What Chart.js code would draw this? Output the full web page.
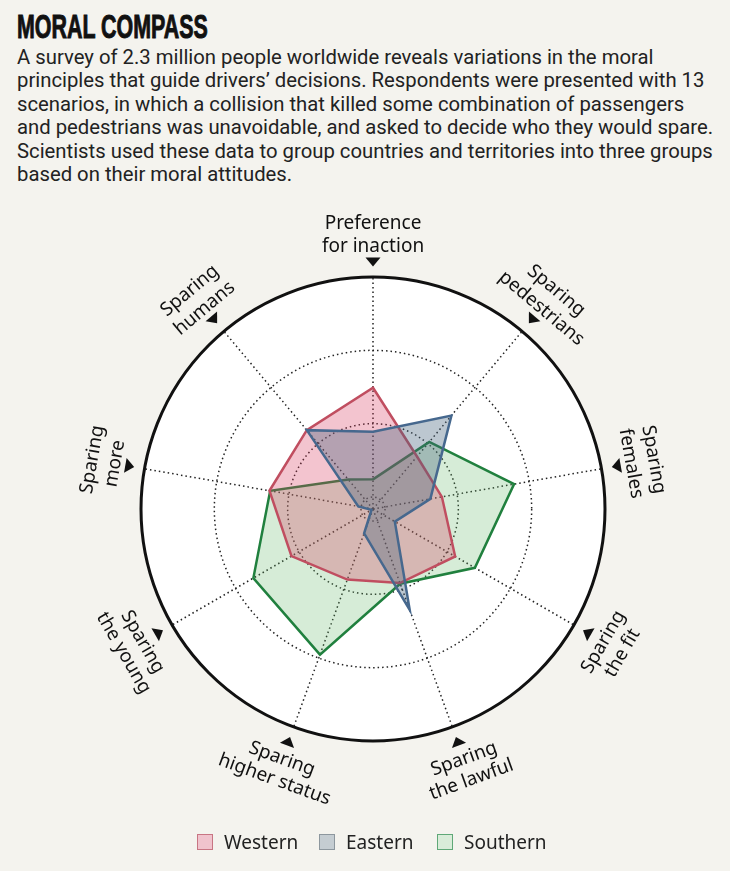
<!DOCTYPE html>
<html>
<head>
<meta charset="utf-8">
<script src="https://cdn.jsdelivr.net/npm/chart.js@4/dist/chart.umd.min.js"></script>
<style>
  html, body { margin: 0; padding: 0; }
  body { width: 730px; height: 871px; background: #f4f3ee; position: relative; overflow: hidden; color: #1a1a1a; }
  #title { position: absolute; left: 17px; top: 9px; font-family: "Liberation Sans Narrow", sans-serif; font-weight: bold;
    font-size: 34px; line-height: 34px; transform: scaleX(0.63); transform-origin: left top; white-space: nowrap; color: #111;
    -webkit-text-stroke: 1px #111; }
  #intro { position: absolute; left: 17px; top: 46px; font-family: Roboto, sans-serif; font-size: 20.3px; line-height: 23.4px;
    white-space: nowrap; color: #222; }
  #wrap { position: absolute; left: 0; top: 190px; width: 730px; height: 640px; }
  .key { position: absolute; top: 834px; font-family: "Noto Sans", sans-serif; font-size: 19px; line-height: 17px; color: #222; }
  .key i { position: absolute; left: 0; top: 0; width: 14px; height: 14px; border: 1.5px solid; }
  .key span { position: absolute; left: 27px; top: 0; white-space: nowrap; }
</style>
</head>
<body>
<div id="title">MORAL COMPASS</div>
<div id="intro">
A survey of 2.3 million people worldwide reveals variations in the moral<br>
principles that guide drivers’ decisions. Respondents were presented with 13<br>
scenarios, in which a collision that killed some combination of passengers<br>
and pedestrians was unavoidable, and asked to decide who they would spare.<br>
Scientists used these data to group countries and territories into three groups<br>
based on their moral attitudes.
</div>
<div id="wrap"><canvas id="compass" width="730" height="640"></canvas></div>
<div id="legend"></div>
<script>
// axes, clockwise from the top
var axisLabels = [
  ["Preference", "for inaction"],
  ["Sparing", "pedestrians"],
  ["Sparing", "females"],
  ["Sparing", "the fit"],
  ["Sparing", "the lawful"],
  ["Sparing", "higher status"],
  ["Sparing", "the young"],
  ["Sparing", "more"],
  ["Sparing", "humans"]
];
var groupNames = ["Western", "Eastern", "Southern"];
var western = [1.49, 0.77, 0.79, 1.13, 0.91, 0.86, 1.12, 1.27, 1.24];
var eastern = [0.89, 1.50, 0.63, 0.18, 1.30, 0.19, -0.14, 0.04, 1.24];
var southern = [0.24, 1.03, 1.79, 1.44, 0.92, 1.95, 1.72, 1.26, 0.36];
var ringTicks = [0, 1, 2, 3];

var lineColors = ["rgb(192,78,96)", "rgb(70,104,142)", "rgb(32,128,62)"];
var fillColors = ["rgba(215,60,95,0.3)", "rgba(70,100,125,0.36)", "rgba(95,180,100,0.26)"];
var keyFill = ["#f0c3cd", "#c5cdd2", "#d9ecd9"];
var keyLine = ["#c87583", "#8d979e", "#5fa877"];

var rMin = -0.164, rMax = ringTicks[ringTicks.length - 1];
var dots = [1.5, 3];

var compassLabels = {
  id: "compassLabels",
  afterDraw: function (chart) {
    var s = chart.scales.r, ctx = chart.ctx, R = s.drawingArea;
    var n = axisLabels.length;
    ctx.save();
    ctx.fillStyle = "#111";
    ctx.font = "19px 'Noto Sans'";
    ctx.textAlign = "center";
    ctx.textBaseline = "middle";
    for (var i = 0; i < n; i++) {
      var deg = i * 360 / n;
      var a = deg * Math.PI / 180;
      var bottom = deg > 90 && deg < 270;
      // triangle pointing at the centre
      var t = s.getPointPosition(i, R + 15);
      ctx.save();
      ctx.translate(t.x, t.y);
      ctx.rotate(a);
      ctx.beginPath();
      ctx.moveTo(-7.5, -4.5);
      ctx.lineTo(7.5, -4.5);
      ctx.lineTo(0, 4.5);
      ctx.closePath();
      ctx.fill();
      ctx.restore();
      // two text lines along the rim
      var radii = bottom ? [R + 34, R + 56] : [R + 53, R + 30];
      var rot = bottom ? a - Math.PI : (deg > 180 ? a - 2 * Math.PI : a);
      for (var j = 0; j < 2; j++) {
        var p = s.getPointPosition(i, radii[j]);
        ctx.save();
        ctx.translate(p.x, p.y);
        ctx.rotate(rot);
        ctx.fillText(axisLabels[i][j], 0, 0);
        ctx.restore();
      }
    }
    ctx.restore();
  }
};

function isRim(c) { return c.tick && c.tick.value === rMax; }

new Chart(document.getElementById("compass").getContext("2d"), {
  type: "radar",
  data: {
    labels: axisLabels,
    datasets: [
      { label: groupNames[0], data: western, order: 2 },
      { label: groupNames[1], data: eastern, order: 1 },
      { label: groupNames[2], data: southern, order: 3 }
    ].map(function (d, k) {
      d.borderColor = lineColors[k];
      d.backgroundColor = fillColors[k];
      d.borderWidth = 2.5;
      d.fill = "start";
      d.pointRadius = 0;
      d.tension = 0;
      return d;
    })
  },
  options: {
    responsive: false,
    animation: false,
    layout: { padding: { left: 141, right: 125, top: 87, bottom: 89 } },
    plugins: { legend: { display: false }, tooltip: { enabled: false } },
    scales: {
      r: {
        min: rMin,
        max: rMax,
        backgroundColor: "#ffffff",
        ticks: { display: false, stepSize: 1 },
        pointLabels: { display: false },
        angleLines: { color: "#222", lineWidth: 1.5, borderDash: dots },
        grid: {
          circular: true,
          color: function (c) { return isRim(c) ? "#111" : "#222"; },
          lineWidth: function (c) { return isRim(c) ? 3 : (c.tick && c.tick.value < ringTicks[0] ? 0 : 1.5); },
          borderDash: function (c) { return isRim(c) ? [] : dots; }
        },
        border: { dash: function (c) { return isRim(c) ? [] : dots; } }
      }
    }
  },
  plugins: [compassLabels]
});

// legend
var keyLeft = [197, 319, 437];
var legend = document.getElementById("legend");
groupNames.forEach(function (name, k) {
  var d = document.createElement("div");
  d.className = "key";
  d.style.left = keyLeft[k] + "px";
  d.innerHTML = '<i style="background:' + keyFill[k] + ';border-color:' + keyLine[k] + '"></i><span>' + name + "</span>";
  legend.appendChild(d);
});
</script>
</body>
</html>
